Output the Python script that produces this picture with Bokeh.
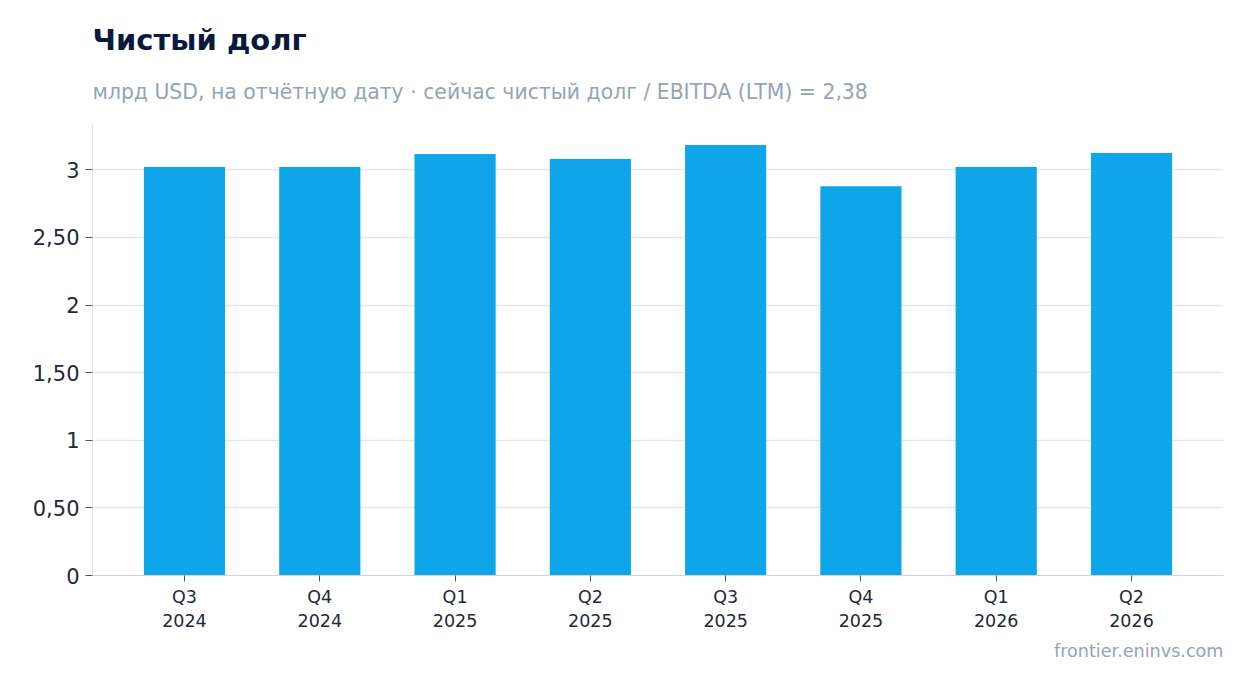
from bokeh.plotting import figure
from bokeh.models import ColumnDataSource, FactorRange, Range1d, FixedTicker, Title
from bokeh.embed import file_html
from bokeh.resources import INLINE

quarters = ["Q3\n2024", "Q4\n2024", "Q1\n2025", "Q2\n2025", "Q3\n2025", "Q4\n2025", "Q1\n2026", "Q2\n2026"]
net_debt = [3.02, 3.02, 3.116, 3.08, 3.183, 2.879, 3.02, 3.124]
y_ticks = [0, 0.5, 1, 1.5, 2, 2.5, 3]
y_tick_labels = ["0", "0,50", "1", "1,50", "2", "2,50", "3"]

FONT = "DejaVu Sans"
BAR = "#0ea5e9"

src = ColumnDataSource(dict(q=quarters, v=net_debt))

p = figure(
    width=1254, height=693,
    x_range=FactorRange(factors=quarters, range_padding=0.18, range_padding_units="absolute"),
    y_range=Range1d(0, max(net_debt) * 1.05),
    output_backend="svg", toolbar_location=None,
    min_border_left=92, min_border_right=31, min_border_top=123, min_border_bottom=118,
)
p.outline_line_color = None
p.background_fill_color = "white"
p.border_fill_color = "white"

p.vbar(x="q", top="v", width=0.6, source=src, fill_color=BAR, line_color=None)

# titles
p.add_layout(Title(text="млрд USD, на отчётную дату · сейчас чистый долг / EBITDA (LTM) = 2,38",
                   text_font=FONT, text_font_size="20.4px", text_font_style="normal",
                   text_color="#94a3b8", align="left", offset=0, standoff=39), "above")
p.add_layout(Title(text="Чистый долг", text_font=FONT, text_font_size="29px",
                   text_font_style="bold", text_color="#0a1a3f", align="left", offset=0, standoff=3), "above")
p.add_layout(Title(text="frontier.eninvs.com", text_font=FONT, text_font_size="17.6px",
                   text_font_style="normal", text_color="#94a3b8", align="right", offset=0, standoff=10), "below")

# y axis
p.yaxis.ticker = FixedTicker(ticks=y_ticks)
p.yaxis.major_label_overrides = {t: l for t, l in zip(y_ticks, y_tick_labels)}
p.yaxis.major_label_text_font = FONT
p.yaxis.major_label_text_font_size = "21px"
p.yaxis.major_label_text_color = "#1e293b"
p.yaxis.axis_line_color = "#e2e8f0"
p.yaxis.major_tick_line_color = "#475569"
p.yaxis.major_tick_out = 7
p.yaxis.major_tick_in = 0
p.yaxis.minor_tick_line_color = None
p.yaxis.major_label_standoff = 6

# x axis
p.xaxis.major_label_text_font = FONT
p.xaxis.major_label_text_font_size = "17.5px"
p.xaxis.major_label_text_color = "#1e293b"
p.xaxis.axis_line_color = "#cbd5e1"
p.xaxis.major_tick_line_color = "#475569"
p.xaxis.major_tick_out = 6
p.xaxis.major_tick_in = 0
p.xaxis.major_label_standoff = 5

p.xgrid.grid_line_color = None
p.ygrid.grid_line_color = "#e2e8f0"
p.ygrid.grid_line_width = 1.5

open("out.html", "w").write(file_html(p, INLINE))
